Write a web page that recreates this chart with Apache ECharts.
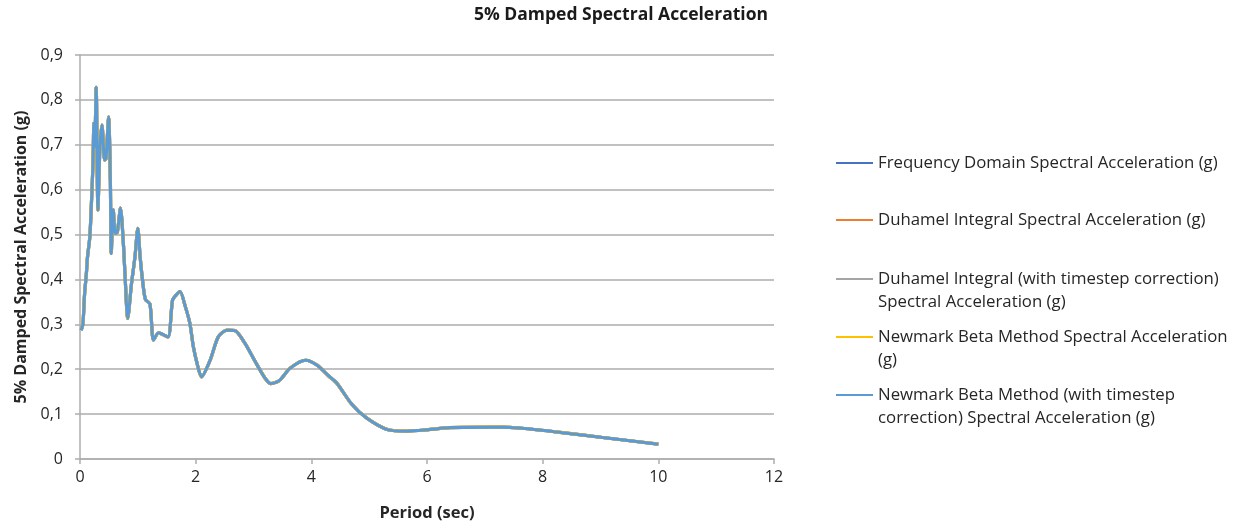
<!DOCTYPE html>
<html>
<head>
<meta charset="utf-8">
<title>5% Damped Spectral Acceleration</title>
<script src="https://cdn.jsdelivr.net/npm/echarts@6/dist/echarts.min.js"></script>
<style>
  html, body { margin: 0; padding: 0; background: #ffffff; }
  #chart { width: 1244px; height: 527px; }
</style>
</head>
<body>
<div id="chart"></div>
<script>
// Period (sec) of each oscillator
const period = [
  0.02, 0.05, 0.08, 0.11, 0.13, 0.17, 0.195, 0.225, 0.24, 0.255,
  0.28, 0.31, 0.345, 0.38, 0.425, 0.45, 0.495, 0.525, 0.54, 0.575,
  0.61, 0.645, 0.70, 0.75, 0.78, 0.825, 0.89, 0.95, 1.0, 1.04,
  1.08, 1.13, 1.21, 1.27, 1.36, 1.52, 1.6, 1.66, 1.73, 1.82,
  1.9, 1.96, 2.03, 2.1, 2.25, 2.39, 2.54, 2.68, 2.85, 3.03,
  3.2, 3.3, 3.45, 3.63, 3.9, 4.1, 4.3, 4.44, 4.7, 4.96,
  5.33, 5.65, 6.0, 6.4, 7.27, 7.6, 8.19, 8.71, 9.29, 10.0
];

// 5% damped spectral acceleration (g); all five methods give the same curve
const spectralAcc = [
  0.287, 0.300, 0.369, 0.413, 0.450, 0.495, 0.562, 0.659, 0.748, 0.696,
  0.828, 0.555, 0.696, 0.744, 0.666, 0.670, 0.762, 0.621, 0.458, 0.555,
  0.503, 0.505, 0.559, 0.480, 0.406, 0.313, 0.390, 0.450, 0.514, 0.450,
  0.400, 0.356, 0.345, 0.265, 0.281, 0.272, 0.354, 0.365, 0.373, 0.340,
  0.302, 0.250, 0.210, 0.183, 0.220, 0.272, 0.287, 0.286, 0.258, 0.217,
  0.180, 0.168, 0.175, 0.202, 0.220, 0.209, 0.185, 0.169, 0.122, 0.091,
  0.065, 0.062, 0.065, 0.070, 0.071, 0.069, 0.061, 0.053, 0.044, 0.033
];

const seriesNames = [
  'Frequency Domain Spectral Acceleration (g)',
  'Duhamel Integral Spectral Acceleration (g)',
  'Duhamel Integral (with timestep correction) Spectral Acceleration (g)',
  'Newmark Beta Method Spectral Acceleration (g)',
  'Newmark Beta Method (with timestep correction) Spectral Acceleration (g)'
];

// Legend text, wrapped the way it is laid out beside the plot
const legendLines = [
  ['Frequency Domain Spectral Acceleration (g)'],
  ['Duhamel Integral Spectral Acceleration (g)'],
  ['Duhamel Integral (with timestep correction)', 'Spectral Acceleration (g)'],
  ['Newmark Beta Method Spectral Acceleration', '(g)'],
  ['Newmark Beta Method (with timestep', 'correction) Spectral Acceleration (g)']
];

const seriesColors = ['#4472C4', '#ED7D31', '#A5A5A5', '#FFC000', '#5B9BD5'];

const xTicks = { min: 0, max: 12, interval: 2 };
const yTicks = { min: 0, max: 0.9, interval: 0.1 };

const FONT = '"Open Sans", "Noto Sans", sans-serif';
const TEXT_COLOR = '#262626';
const GRID_COLOR = '#ADADAD';

const points = period.map((p, i) => [p, spectralAcc[i]]);

// One legend block per series so each row sits at its own height.
// A blank line is put above wrapped labels so the swatch lines up with
// the first line of text (legend text is centred on the swatch).
const legendRows = [163, 220, 279, 337, 395];
const LINE_H = 23;
const legends = seriesNames.map((name, i) => {
  const lines = legendLines[i];
  const text = lines.length > 1 ? '\n' + lines.join('\n') : lines[0];
  const nLines = lines.length > 1 ? 3 : 1;
  return {
    data: [name],
    left: 836,
    top: legendRows[i] - (nLines * LINE_H) / 2,
    padding: 0,
    itemWidth: 37,
    itemHeight: 14,
    itemGap: 0,
    icon: 'path://M0,6.5 L37,6.5 L37,8.5 L0,8.5 Z',
    selectedMode: false,
    formatter: () => text,
    textStyle: {
      fontFamily: FONT,
      fontSize: 16.8,
      color: TEXT_COLOR,
      lineHeight: LINE_H
    }
  };
});

const chart = echarts.init(document.getElementById('chart'), null, { renderer: 'canvas' });

chart.setOption({
  backgroundColor: '#ffffff',
  animation: false,
  title: {
    text: '5% Damped Spectral Acceleration',
    left: 621,
    top: 6,
    textAlign: 'center',
    padding: 0,
    textStyle: {
      fontFamily: FONT,
      fontSize: 17.5,
      fontWeight: 'bold',
      color: '#1a1a1a'
    }
  },
  legend: legends,
  grid: {
    left: 80,
    right: 470,
    top: 55,
    bottom: 68,
    containLabel: false
  },
  xAxis: {
    type: 'value',
    min: xTicks.min,
    max: xTicks.max,
    interval: xTicks.interval,
    name: 'Period (sec)',
    nameLocation: 'middle',
    nameGap: 46,
    nameTextStyle: {
      fontFamily: FONT,
      fontSize: 16.5,
      fontWeight: 'bold',
      color: TEXT_COLOR
    },
    axisLine: { show: true, onZero: false, lineStyle: { color: GRID_COLOR, width: 1.5 } },
    axisTick: { show: true, inside: false, length: 5, lineStyle: { color: GRID_COLOR, width: 1.5 } },
    axisLabel: {
      margin: 10,
      fontFamily: FONT,
      fontSize: 16,
      color: TEXT_COLOR
    },
    splitLine: { show: false }
  },
  yAxis: {
    type: 'value',
    min: yTicks.min,
    max: yTicks.max,
    interval: yTicks.interval,
    name: '5% Damped Spectral Acceleration (g)',
    nameLocation: 'middle',
    nameRotate: 90,
    nameGap: 50,
    nameTextStyle: {
      fontFamily: FONT,
      fontSize: 16,
      fontWeight: 'bold',
      color: TEXT_COLOR
    },
    axisLine: { show: true, lineStyle: { color: GRID_COLOR, width: 1.5 } },
    axisTick: { show: true, inside: false, length: 5, lineStyle: { color: GRID_COLOR, width: 1.5 } },
    axisLabel: {
      margin: 17,
      fontFamily: FONT,
      fontSize: 16,
      color: TEXT_COLOR,
      formatter: v => (Math.round(v * 10) / 10).toString().replace('.', ',')
    },
    splitLine: { show: true, lineStyle: { color: GRID_COLOR, width: 1.5 } }
  },
  series: seriesNames.map((name, i) => ({
    name: name,
    type: 'line',
    data: points,
    smooth: 0.25,
    showSymbol: false,
    symbol: 'none',
    color: seriesColors[i],
    lineStyle: { color: seriesColors[i], width: i === 4 ? 3 : 3.2 },
    z: 2 + i
  }))
});
</script>
</body>
</html>
